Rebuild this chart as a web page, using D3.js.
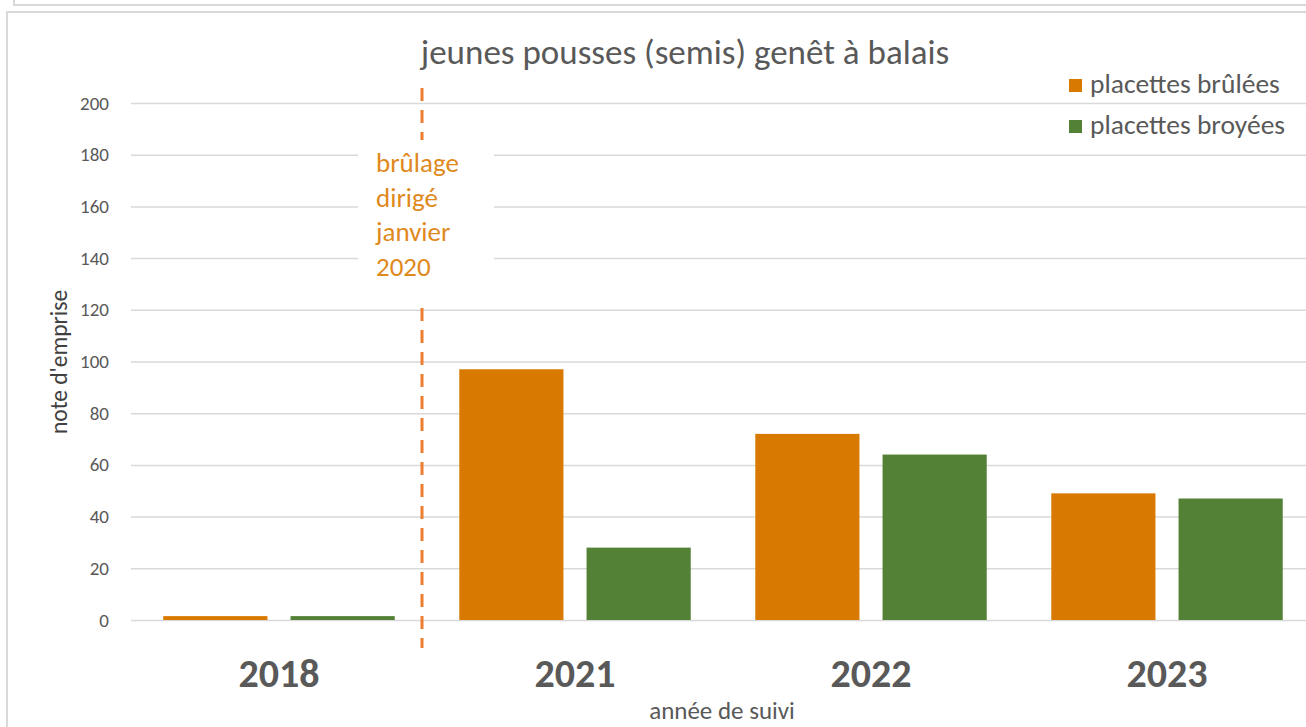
<!DOCTYPE html>
<html>
<head>
<meta charset="utf-8">
<script src="https://cdn.jsdelivr.net/npm/d3@7"></script>
<style>
  body { margin: 0; background: #fff; }
  svg { display: block; font-family: Carlito, Lato, sans-serif; }
</style>
</head>
<body>
<svg id="chart"></svg>
<script>
const years = ['2018', '2021', '2022', '2023'];
const seriesNames = ['placettes brûlées', 'placettes broyées'];
const brulees = [1.5, 97, 72, 49];
const broyees = [1.5, 28, 64, 47];
const yTicks = [0, 20, 40, 60, 80, 100, 120, 140, 160, 180, 200];
const noteLines = ['brûlage', 'dirigé', 'janvier', '2020'];

const colors = ['#D97A00', '#538135'];
const width = 1306;
const height = 727;

const svg = d3.select('#chart')
    .attr('width', width)
    .attr('height', height);

// frames (the cropped box above and the chart box)
svg.append('path')
    .attr('d', `M14,0 V5 H${width}`)
    .attr('fill', 'none')
    .attr('stroke', '#d9d9d9')
    .attr('stroke-width', 2);
svg.append('path')
    .attr('d', `M7,${height} V12 H${width}`)
    .attr('fill', 'none')
    .attr('stroke', '#d9d9d9')
    .attr('stroke-width', 2);

const margin = {top: 103, right: -9, bottom: 107, left: 131};
const innerWidth = width - margin.left - margin.right;
const innerHeight = height - margin.top - margin.bottom;

const g = svg.append('g')
    .attr('transform', `translate(${margin.left}, ${margin.top})`);

const xScale = d3.scaleBand()
    .domain(years)
    .range([0, innerWidth]);
const yScale = d3.scaleLinear()
    .domain([0, 200])
    .range([innerHeight, 0]);

const data = years.map((y, i) => ({year: y, values: [brulees[i], broyees[i]]}));

// gridlines
g.append('g')
    .call(d3.axisLeft(yScale).tickValues(yTicks).tickSize(-innerWidth).tickFormat(''))
    .call(s => s.select('.domain').remove())
    .call(s => s.selectAll('text').remove())
    .call(s => s.selectAll('line').attr('stroke', '#d9d9d9').attr('stroke-width', 1.5));

// y labels
g.append('g')
    .call(d3.axisLeft(yScale).tickValues(yTicks).tickSize(0).tickPadding(22))
    .call(s => s.select('.domain').remove())
    .call(s => s.selectAll('text')
        .attr('fill', '#595959')
        .style('font-size', '19px')
        .style('font-family', 'Carlito, Lato, sans-serif'));

// bars
const barW = xScale.bandwidth() * 0.352;
const barGap = xScale.bandwidth() * 0.078;
g.selectAll('.grp').data(data)
    .enter().append('g')
        .attr('transform', d => `translate(${xScale(d.year) + xScale.bandwidth() / 2}, 0)`)
    .selectAll('rect').data(d => d.values)
    .enter().append('rect')
        .attr('x', (d, i) => i === 0 ? -barGap / 2 - barW : barGap / 2)
        .attr('y', d => yScale(d))
        .attr('width', barW)
        .attr('height', d => innerHeight - yScale(d))
        .attr('fill', (d, i) => colors[i]);

// x labels
g.append('g')
    .attr('transform', `translate(0, ${innerHeight})`)
    .call(d3.axisBottom(xScale).tickSize(0).tickPadding(38.5))
    .call(s => s.select('.domain').remove())
    .call(s => s.selectAll('text')
        .attr('fill', '#595959')
        .style('font-size', '40px')
        .style('font-weight', 'bold')
        .style('font-family', 'Carlito, Lato, sans-serif'));

// treatment marker
const markX = (xScale('2018') + xScale.bandwidth() + xScale('2021')) / 2 - 5;
g.append('line')
    .attr('x1', markX).attr('x2', markX)
    .attr('y1', -15).attr('y2', innerHeight + 28)
    .attr('stroke', '#ED7D31')
    .attr('stroke-width', 3)
    .attr('stroke-dasharray', '13 9');

g.append('rect')
    .attr('x', markX - 64).attr('y', 37)
    .attr('width', 136).attr('height', 162)
    .attr('fill', '#fff');

g.append('text')
    .attr('x', markX - 46)
    .attr('y', 69)
    .attr('fill', '#E0891C')
    .style('font-size', '27px')
    .selectAll('tspan').data(noteLines)
    .enter().append('tspan')
        .attr('x', markX - 46)
        .attr('dy', (d, i) => i === 0 ? 0 : 34.5)
        .text(d => d);

// title
svg.append('text')
    .attr('x', 685)
    .attr('y', 64)
    .attr('text-anchor', 'middle')
    .attr('fill', '#595959')
    .style('font-size', '35px')
    .text('jeunes pousses (semis) genêt à balais');

// axis titles
svg.append('text')
    .attr('transform', 'translate(67, 362) rotate(-90)')
    .attr('text-anchor', 'middle')
    .attr('fill', '#404040')
    .style('font-size', '23.5px')
    .text("note d'emprise");

svg.append('text')
    .attr('x', 722)
    .attr('y', 719)
    .attr('text-anchor', 'middle')
    .attr('fill', '#595959')
    .style('font-size', '25px')
    .text('année de suivi');

// legend
const legend = svg.append('g')
    .attr('transform', 'translate(1069, 79)');
const items = legend.selectAll('g').data(seriesNames)
    .enter().append('g')
        .attr('transform', (d, i) => `translate(0, ${i * 41})`);
items.append('rect')
    .attr('width', 13).attr('height', 13)
    .attr('fill', (d, i) => colors[i]);
items.append('text')
    .attr('x', 21).attr('y', 14)
    .attr('fill', '#595959')
    .style('font-size', '27.5px')
    .text(d => d);
</script>
</body>
</html>
